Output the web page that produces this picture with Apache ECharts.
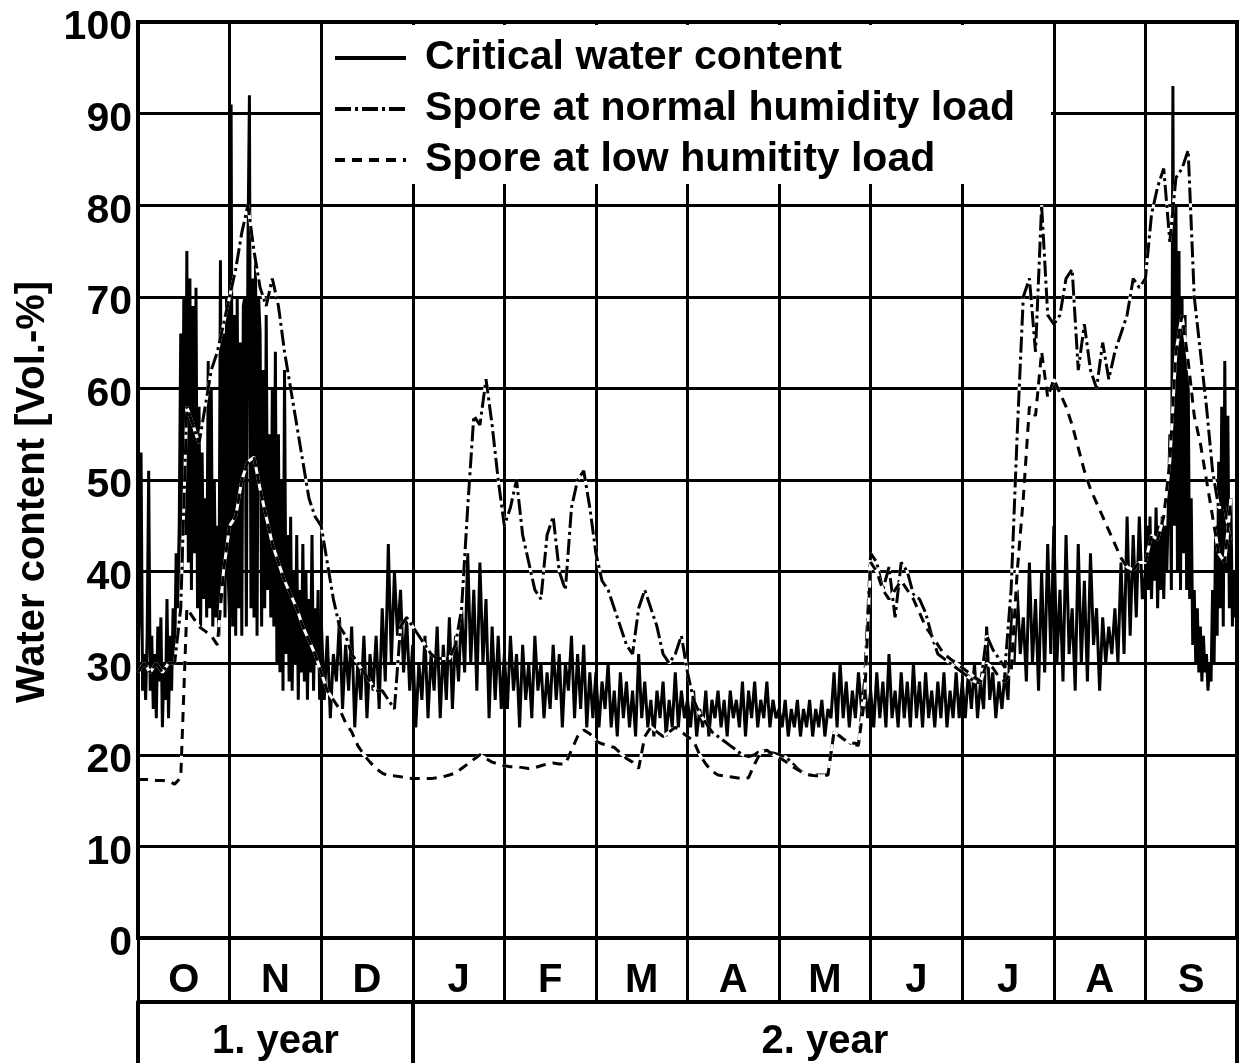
<!DOCTYPE html>
<html>
<head>
<meta charset="utf-8">
<title>Water content</title>
<script src="https://cdn.jsdelivr.net/npm/echarts@6/dist/echarts.min.js"></script>
<style>
  html, body { margin: 0; padding: 0; background: #fff; }
  #chart { width: 1240px; height: 1063px; }
</style>
</head>
<body>
<div id="chart"></div>
<script>
// Month initials (October of year 1 to September of year 2) and year captions
const months = ['O', 'N', 'D', 'J', 'F', 'M', 'A', 'M', 'J', 'J', 'A', 'S'];
const years = ['1. year', '2. year'];
const seriesNames = ['Critical water content', 'Spore at normal humidity load', 'Spore at low humitity load'];

// Critical water content, Oct + Nov (days 0-59.5), two values per day
const criticalAutumn = [
  30,36,53,27,31,26,33,51,27,33,25,31,             // days 0-5.5
  24,34,28,35,23,30,26,37,24,33,27,36,             // days 6-11.5
  30,42,36,45,                                     // days 12-13.5
  66,40,70,44,75,41,72,38,69,42,71,36,             // days 14-19.5
  58,34,53,37,48,35,                               // days 20-22.5
  63,36,60,34,50,35,45,33,                         // days 23-26.5
  74,38,66,35,70,40,                               // days 27-29.5
  35,91,34,68,33,70,36,65,33,69,                   // days 30-34.5
  70,34,75,92,36,72,35,74,33,70,                   // days 35-39.5
  66,34,62,36,68,38,55,35,60,34,                   // days 40-44.5
  64,30,55,29,50,27,62,31,44,28,                   // days 45-49.5
  46,27,40,30,44,26,38,29,43,28,                   // days 50-54.5
  40,26,37,29,44,27,36,30,38,26                    // days 55-59.5
];

// Critical water content, Dec to Aug (days 60-329), one value per day
const criticalMain = [
  // Dec
  35,26,33,24,31,28,35,25,32,27,34,23,30,26,33,24,31,27,33,25,36,28,43,30,40,33,38,29,35,27,
  // Jan
  32,23,30,26,33,24,31,27,34,24,32,26,35,25,33,28,36,29,42,30,38,27,41,30,37,24,34,26,33,25,
  // Feb
  31,25,33,27,31,23,32,26,30,24,33,27,30,24,29,25,32,26,31,23,30,27,33,24,31,25,32,23,29,24,
  // Mar
  29,23,28,25,30,23,27,22,29,24,28,23,27,22,31,24,28,23,26,22,27,24,28,22,26,23,29,23,27,24,
  // Apr
  26,23,27,22,25,23,27,22,26,24,27,23,26,22,27,24,26,23,28,22,27,24,28,23,26,24,28,23,26,24,
  // May
  25,23,26,22,25,23,26,22,25,23,26,22,25,23,26,22,25,24,29,23,30,24,28,23,27,24,29,25,28,24,
  // Jun
  27,23,29,24,28,23,31,24,27,23,29,24,28,23,30,24,28,23,29,24,27,23,28,24,29,23,27,24,29,24,
  // Jul
  28,24,29,25,30,24,28,25,34,26,29,24,28,25,29,26,36,30,38,31,35,28,41,30,37,27,40,29,43,31,
  // Aug
  45,30,38,28,44,31,36,27,43,30,39,28,42,32,36,27,35,30,34,31,36,30,41,31,46,33,44,35,46,37
];

// Critical water content, Sep (days 330-359.5), two values per day
const criticalSep = [
  40,45,38,46,37,44,39,47,36,45,38,46,37,45,40,47, // days 330-337.5
  55,38,93,45,                                     // days 338-339.5
  80,40,75,38,70,42,68,38,62,37,                   // days 340-344.5
  48,32,38,30,36,29,                               // days 345-347.5
  34,28,33,29,31,27,30,28,                         // days 348-351.5
  38,30,45,33,52,36,58,34,                         // days 352-355.5
  63,40,57,36,48,34,40,35                          // days 356-359.5
];

// Spore at normal humidity load, one value every second day
const sporeNormal = [
  29,30,29,30,29,30,30,36,58,56,54,58,62,64,67,          // Oct
  70,73,77,80,75,71,69,72,69,64,60,56,52,48,46,          // Nov
  45,41,37,34,33,31,30,29,28,27,27,26,25,34,35,          // Dec
  34,33,32,31,30.5,30.5,30.5,32,36,47,57,56,61,56,50,    // Jan
  45,47,50,44,41,38,37,44,46,40,38,47,50,51,47,          // Feb
  42,39,38,36,34,32,31,36,38,36,34,31,30,31,33,          // Mar
  29,26,24.5,23.5,22.5,22,21.5,21,20.5,20,19.8,20,20.5,20.3,20.2, // Apr
  20,19.8,19.2,18.5,18,17.8,17.8,17.8,17.8,22.5,22,21.5,21.2,21,28, // May
  42,41,38,40.5,35,41,40,37.5,37,35.5,33,31,30.5,30,29.5, // Jun
  29,28.5,28,27.8,33,31.5,30.5,29.5,38,55,70,72,64,80,68, // Jul
  67,68,72,73,62,67,62,60,65,61,64,66,68,72,71,          // Aug
  72,79,82,84,76,83,84,86,70,64,58,51,47,47,43           // Sep
];

// Spore at low humidity load, one value every second day
const sporeLow = [
  17.3,17.3,17.3,17.2,17.2,17.1,16.8,17.5,36,35,34,33.5,33,32,40, // Oct
  45,46,50,52,52.5,49,46,43,41,39,37.5,36,34,32.5,31,    // Nov
  29,27,26,25,23.5,22.5,21,20,19.2,18.5,18,17.7,17.7,17.6,17.5, // Dec
  17.4,17.4,17.4,17.4,17.5,17.6,17.8,18,18.5,19,19.5,20,19.6,19.2,19, // Jan
  18.8,18.7,18.7,18.6,18.5,18.6,18.8,19,19.1,19,19,20.5,22,22.7,22.3, // Feb
  21.5,21.2,21,20.8,20.2,19.6,19.2,18.5,22,23,22.5,22,22.5,23,22.5,   // Mar
  22,21.5,20,19,18.2,17.8,17.7,17.6,17.5,17.4,17.5,19,20.3,20.5,20,   // Apr
  19.7,19.3,18.8,18.4,18,17.8,17.7,17.7,17.8,22.5,22,21.5,21.3,21.2,26, // May
  41,40,38,37,38,39,38,37,35.5,34,33,32,31,30.5,30,      // Jun
  29.5,29,28.5,28,30,29.5,28.5,28,29,40,48,58,57,64,59,  // Jul
  61,59.5,58,56,53.5,51,49,47.5,46,44.5,43,41.5,40.5,40.2,41, // Aug
  41,44,43.5,46,52,64,68,63,57,54,50,46,42,41,48         // Sep
];

const FONT = "'Liberation Sans', Arial, sans-serif";
const DAYS = 360;
const points = (arr, start, step) => arr.map((v, i) => [start + i * step, v]);

const criticalPoints = [].concat(
  points(criticalAutumn, 0, 0.5),
  points(criticalMain, 60, 1),
  points(criticalSep, 330, 0.5)
);

const textBase = { color: '#000', fontFamily: FONT, fontWeight: 'bold' };

const chart = echarts.init(document.getElementById('chart'), null, { renderer: 'canvas' });

chart.setOption({
  animation: false,
  backgroundColor: '#fff',
  grid: {
    left: 138, right: 3, top: 22, bottom: 125,
    show: true, borderColor: '#000', borderWidth: 4, backgroundColor: 'transparent'
  },
  legend: {
    data: seriesNames,
    orient: 'vertical',
    left: 333, top: 36,
    padding: 0,
    itemWidth: 71, itemHeight: 14, itemGap: 7,
    selectedMode: false,
    z: 6,
    itemStyle: { opacity: 0 },
    lineStyle: { width: 4 },
    textStyle: Object.assign({}, textBase, { fontSize: 41, lineHeight: 44, padding: [0, 0, 0, 14] })
  },
  // white panel behind the legend
  graphic: [{
    type: 'rect', z: 5, silent: true,
    shape: { x: 323, y: 25, width: 728, height: 159 },
    style: { fill: '#fff' }
  }],
  xAxis: [
    { // day scale carrying the month grid lines
      type: 'value', min: 0, max: DAYS, interval: 30,
      axisLine: { show: false }, axisTick: { show: false }, axisLabel: { show: false },
      splitLine: { show: true, lineStyle: { color: '#000', width: 3 } }
    },
    { // month row
      type: 'value', position: 'bottom', min: 0, max: 12,
      axisLine: { show: true, lineStyle: { color: '#000', width: 4 } },
      splitLine: { show: false },
      axisTick: {
        show: true, length: 64,
        customValues: [0, 1, 2, 3, 4, 5, 6, 7, 8, 9, 10, 11, 12],
        lineStyle: { color: '#000', width: 3 }
      },
      axisLabel: Object.assign({}, textBase, {
        fontSize: 40, margin: 23,
        customValues: months.map((m, i) => i + 0.5),
        formatter: v => months[Math.floor(v)]
      })
    },
    { // year row
      type: 'value', position: 'bottom', offset: 64, min: 0, max: 12,
      axisLine: { show: true, lineStyle: { color: '#000', width: 4 } },
      splitLine: { show: false },
      axisTick: {
        show: true, length: 62, customValues: [0, 3, 12],
        lineStyle: { color: '#000', width: 4 }
      },
      axisLabel: Object.assign({}, textBase, {
        fontSize: 40, margin: 20,
        customValues: [1.5, 7.5],
        formatter: v => (v < 3 ? years[0] : years[1])
      })
    }
  ],
  yAxis: {
    type: 'value', min: 0, max: 100, interval: 10,
    name: 'Water content [Vol.-%]',
    nameLocation: 'middle', nameGap: 80,
    nameTextStyle: Object.assign({}, textBase, { fontSize: 40, padding: [0, 24, 0, 0] }),
    axisLine: { show: true, lineStyle: { color: '#000', width: 4 } },
    axisTick: { show: false },
    // numbers sit a little below their grid line
    axisLabel: Object.assign({}, textBase, { fontSize: 41, margin: 6, verticalAlign: 'top', lineHeight: 12 }),
    splitLine: { show: true, lineStyle: { color: '#000', width: 3 } }
  },
  series: [
    {
      name: seriesNames[0], type: 'line', xAxisIndex: 0, symbol: 'none', silent: true,
      data: criticalPoints,
      itemStyle: { color: '#000' },
      lineStyle: { color: '#000', width: 3, type: 'solid' }
    },
    { // white backing so the dash gaps stay open over other lines
      name: 'normal-backing', type: 'line', xAxisIndex: 0, symbol: 'none', silent: true,
      data: points(sporeNormal, 0, 2),
      lineStyle: { color: '#fff', width: 3 }
    },
    {
      name: seriesNames[1], type: 'line', xAxisIndex: 0, symbol: 'none', silent: true,
      data: points(sporeNormal, 0, 2),
      itemStyle: { color: '#000' },
      lineStyle: { color: '#000', width: 3, type: [16, 4, 3, 4] }
    },
    {
      name: 'low-backing', type: 'line', xAxisIndex: 0, symbol: 'none', silent: true,
      data: points(sporeLow, 0, 2),
      lineStyle: { color: '#fff', width: 3 }
    },
    {
      name: seriesNames[2], type: 'line', xAxisIndex: 0, symbol: 'none', silent: true,
      data: points(sporeLow, 0, 2),
      itemStyle: { color: '#000' },
      lineStyle: { color: '#000', width: 3, type: [10, 7] }
    }
  ]
});
</script>
</body>
</html>
